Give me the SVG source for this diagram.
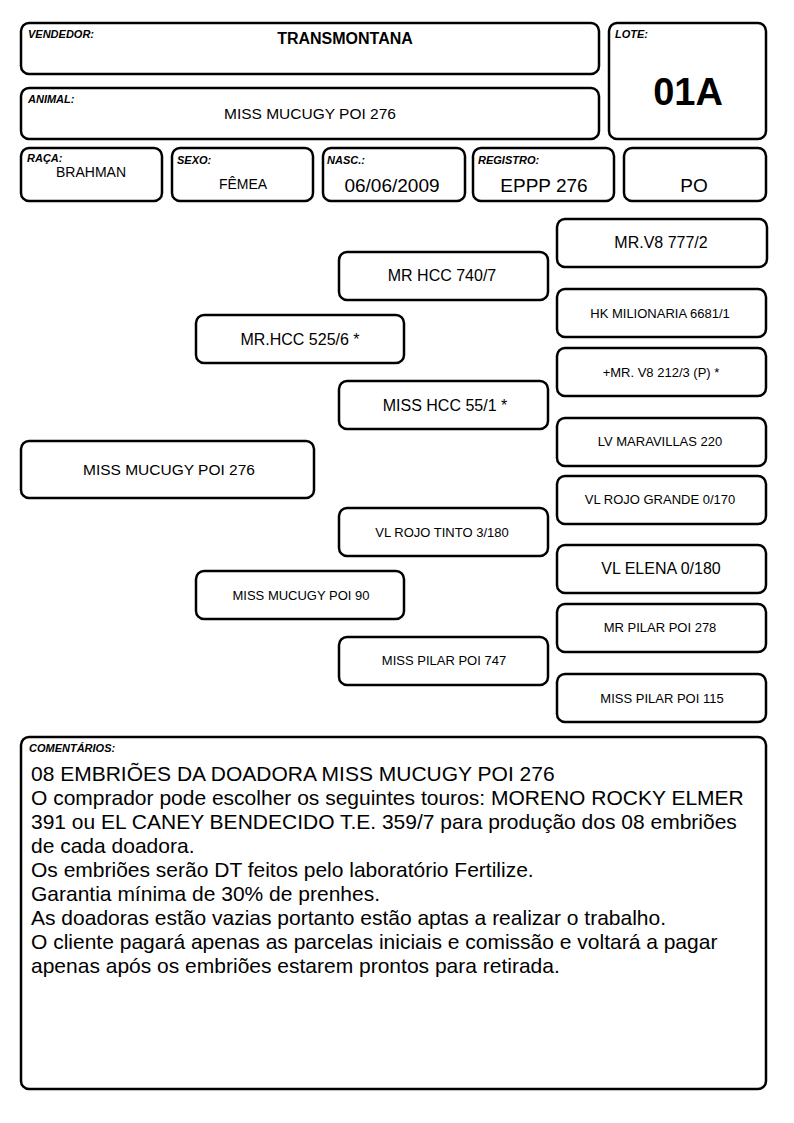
<svg xmlns="http://www.w3.org/2000/svg" width="794" height="1123" viewBox="0 0 794 1123">
<style>
.b{fill:#fff;stroke:#000;stroke-width:2.5}
.l{font-family:"Liberation Sans",Arial,sans-serif;font-size:11px;font-weight:bold;font-style:italic;fill:#000}
.t{font-family:"Liberation Sans",Arial,sans-serif;fill:#000;text-anchor:middle}
.s16{font-size:16px}
.s13{font-size:13px}
.c{font-family:"Liberation Sans",Arial,sans-serif;font-size:21px;fill:#000}
</style>
<rect width="794" height="1123" fill="#fff"/>
<g id="vendedor"><rect class="b" x="21" y="23" width="578" height="51" rx="8"/><text class="l" x="28" y="38">VENDEDOR:</text><text class="t" x="345" y="44" font-size="16" font-weight="bold">TRANSMONTANA</text></g>
<g id="animal"><rect class="b" x="21" y="88" width="578" height="51" rx="8"/><text class="l" x="28" y="103">ANIMAL:</text><text class="t" x="310" y="119" font-size="15.5">MISS MUCUGY POI 276</text></g>
<g id="lote"><rect class="b" x="609" y="23" width="157" height="116" rx="8"/><text class="l" x="615" y="38">LOTE:</text><text class="t" x="688" y="105" font-size="38" font-weight="bold">01A</text></g>
<g id="raca"><rect class="b" x="21" y="148" width="141" height="53" rx="8"/><text class="l" x="27" y="162">RAÇA:</text><text class="t" x="91" y="177" font-size="14">BRAHMAN</text></g>
<g id="sexo"><rect class="b" x="172" y="148" width="141" height="53" rx="8"/><text class="l" x="177" y="164">SEXO:</text><text class="t" x="243" y="189" font-size="14">FÊMEA</text></g>
<g id="nasc"><rect class="b" x="323" y="148" width="142" height="53" rx="8"/><text class="l" x="327" y="164">NASC.:</text><text class="t" x="392" y="192" font-size="19">06/06/2009</text></g>
<g id="registro"><rect class="b" x="473" y="148" width="141" height="53" rx="8"/><text class="l" x="478" y="164">REGISTRO:</text><text class="t" x="544" y="192" font-size="19">EPPP 276</text></g>
<g id="po"><rect class="b" x="624" y="148" width="142" height="53" rx="8"/><text class="t" x="694" y="192" font-size="19">PO</text></g>
<g id="connectors"></g>
<g id="n-mrv8-777"><rect class="b" x="557" y="219" width="210" height="48" rx="8"/><text class="t s16" x="661" y="248">MR.V8 777/2</text></g>
<g id="n-mrhcc-740"><rect class="b" x="339" y="252" width="209" height="48" rx="8"/><text class="t s16" x="442" y="281">MR HCC 740/7</text></g>
<g id="n-hk"><rect class="b" x="557" y="289" width="209" height="48" rx="8"/><text class="t s13" x="660" y="318">HK MILIONARIA 6681/1</text></g>
<g id="n-mrhcc-525"><rect class="b" x="196" y="315" width="208" height="48" rx="8"/><text class="t s16" x="300" y="345">MR.HCC 525/6 *</text></g>
<g id="n-mrv8-212"><rect class="b" x="557" y="348" width="209" height="48" rx="8"/><text class="t s13" x="661" y="377">+MR. V8 212/3 (P) *</text></g>
<g id="n-misshcc"><rect class="b" x="339" y="381" width="209" height="48" rx="8"/><text class="t s16" x="445" y="411">MISS HCC 55/1 *</text></g>
<g id="n-lv"><rect class="b" x="557" y="418" width="209" height="48" rx="8"/><text class="t s13" x="660" y="446">LV MARAVILLAS 220</text></g>
<g id="n-main"><rect class="b" x="21" y="441" width="293" height="57" rx="8"/><text class="t" x="169" y="475" font-size="15.5">MISS MUCUGY POI 276</text></g>
<g id="n-vlgrande"><rect class="b" x="557" y="476" width="209" height="48" rx="8"/><text class="t s13" x="660" y="504">VL ROJO GRANDE 0/170</text></g>
<g id="n-vltinto"><rect class="b" x="339" y="508" width="209" height="48" rx="8"/><text class="t s13" x="442" y="537">VL ROJO TINTO 3/180</text></g>
<g id="n-vlelena"><rect class="b" x="557" y="545" width="209" height="48" rx="8"/><text class="t s16" x="661" y="574">VL ELENA 0/180</text></g>
<g id="n-mm90"><rect class="b" x="196" y="571" width="208" height="48" rx="8"/><text class="t s13" x="301" y="600">MISS MUCUGY POI 90</text></g>
<g id="n-mrpilar"><rect class="b" x="557" y="604" width="209" height="48" rx="8"/><text class="t s13" x="660" y="632">MR PILAR POI 278</text></g>
<g id="n-mp747"><rect class="b" x="339" y="637" width="209" height="48" rx="8"/><text class="t s13" x="444" y="665">MISS PILAR POI 747</text></g>
<g id="n-mp115"><rect class="b" x="557" y="674" width="209" height="48" rx="8"/><text class="t s13" x="662" y="703">MISS PILAR POI 115</text></g>
<g id="comentarios"><rect class="b" x="21" y="737" width="745" height="352" rx="8"/><text class="l" x="29" y="752">COMENTÁRIOS:</text>
<text class="c" x="31" y="781">08 EMBRIÕES DA DOADORA MISS MUCUGY POI 276</text>
<text class="c" x="31" y="805">O comprador pode escolher os seguintes touros: MORENO ROCKY ELMER</text>
<text class="c" x="31" y="829">391 ou EL CANEY BENDECIDO T.E. 359/7 para produção dos 08 embriões</text>
<text class="c" x="31" y="853">de cada doadora.</text>
<text class="c" x="31" y="877">Os embriões serão DT feitos pelo laboratório Fertilize.</text>
<text class="c" x="31" y="901">Garantia mínima de 30% de prenhes.</text>
<text class="c" x="31" y="925">As doadoras estão vazias portanto estão aptas a realizar o trabalho.</text>
<text class="c" x="31" y="949">O cliente pagará apenas as parcelas iniciais e comissão e voltará a pagar</text>
<text class="c" x="31" y="973">apenas após os embriões estarem prontos para retirada.</text>
</g>
</svg>
